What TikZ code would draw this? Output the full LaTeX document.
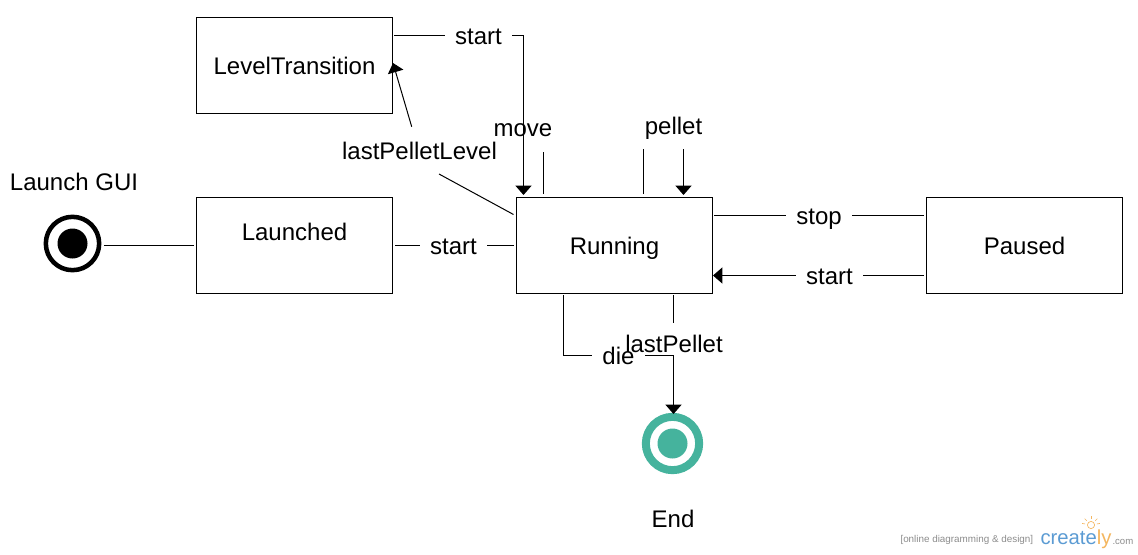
\documentclass[tikz,border=0pt]{standalone}
\usepackage{fontspec}
\setmainfont{Liberation Sans}
\usepackage{tikz}
\usetikzlibrary{positioning,arrows.meta}
\definecolor{endgreen}{HTML}{45B39D}
\definecolor{markblue}{HTML}{5B9BD3}
\definecolor{markorange}{HTML}{F4B65F}
\definecolor{markgray}{HTML}{8C8C8C}

\begin{document}
\begin{tikzpicture}[x=0.75pt, y=-0.75pt, line width=0.75pt,
		sbox/.style= {rectangle, draw=black, minimum width=147pt, minimum height=72pt, outer sep=2pt, inner sep=0pt, text height=16pt, text depth=3.2pt, font=\fontsize{18}{20}\selectfont},
		lab/.style= {text height=16pt, text depth=3.2pt, inner xsep=7.5pt, inner ysep=6pt, font=\fontsize{18}{20}\selectfont},
		arr/.style= {-{Triangle[width=12pt, length=7pt]}}]
		\useasboundingbox (0,0) rectangle (1138,554);

		\node[sbox] (running) at (614.5,245.5) {Running};
		\node[sbox] (launched) [left=89pt of running] {\raisebox{10.5pt}{Launched}};
		\node[sbox] (transition) [above=59pt of launched] {LevelTransition};
		\node[sbox] (paused) [right=156.5pt of running] {Paused};

		\node[circle, draw=black, line width=3.4pt, minimum size=40pt, outer sep=3.6pt, inner sep=0pt] (gui) at (72.5,243.5) {};
		\node[circle, fill=black, minimum size=22.5pt, inner sep=0pt] (guidot) at (gui) {};
		\node[circle, draw=endgreen, line width=6pt, minimum size=40pt, outer sep=0pt, inner sep=0pt] (end) at (672.5,443.5) {};
		\node[circle, fill=endgreen, minimum size=22.5pt, inner sep=0pt] (enddot) at (end) {};

		\node[lab] (guilabel) at (74,182) {Launch GUI};
		\node[lab] (endlabel) at (673,519) {End};
		\node[lab] (start0) at (453.5,245.5) {start};
		\node[lab] (start1) at (478.5,35.5) {start};
		\node[lab] (start2) at (829.5,275.5) {start};
		\node[lab] (stop) at (819,215.5) {stop};
		\node[lab] (move) at (523,128) {move};
		\node[lab] (pellet) at (673.5,126) {pellet};
		\node[lab] (level) at (419.5,151) {lastPelletLevel};
		\node[lab] (die) at (618.5,355.5) {die};
		\node[lab] (last) at (674,344) {lastPellet};

		\coordinate (c0) at (394,35.5);
		\coordinate (c1) at (523.5,195);
		\coordinate (c2) at (543.5,194);
		\coordinate (c3) at (543.5,152);
		\coordinate (c4) at (643.5,194);
		\coordinate (c5) at (643.5,149);
		\coordinate (c6) at (683.5,149);
		\coordinate (c7) at (683.5,195);
		\coordinate (c8) at (513.5,214.5);
		\coordinate (c9) at (439,174);
		\coordinate (c10) at (411.7,126.7);
		\coordinate (c11) at (393,63);
		\coordinate (c12) at (923.5,275.5);
		\coordinate (c13) at (713,275.5);
		\coordinate (c14) at (563.5,295);
		\coordinate (c15) at (673.5,414);
		\coordinate (c16) at (673.5,295);
		\coordinate (c17) at (673.5,323);
		\coordinate (c18) at (714,215.5);
		\coordinate (c19) at (923.5,215.5);

		\draw[-] (gui.east |- launched.west) -- (launched.west);
		\draw[-] (launched.east) -- (start0.west);
		\draw[-] (start0.east) -- (running.west);
		\draw[-] (c0) -- (start1.west);
		\draw[arr] (start1.east) -| (c1);
		\draw[-] (c2) -- (c3);
		\draw[-] (c4) -- (c5);
		\draw[arr] (c6) -- (c7);
		\draw[-] (c8) -- (c9);
		\draw[arr] (c10) -- (c11);
		\draw[-] (c18) -- (stop.west);
		\draw[-] (stop.east) -- (c19);
		\draw[-] (c12) -- (start2.east);
		\draw[arr] (start2.west) -- (c13);
		\draw[-] (c14) |- (die.west);
		\draw[arr] (die.east) -| (c15);
		\draw[-] (c16) -- (c17);

		\node[anchor=base west, inner sep=0pt, text=markgray, font=\fontsize{7.4}{9}\selectfont] (mark0) at (900,542) {[online diagramming \& design]};
		\node[anchor=base west, inner sep=0pt, text=markblue, font=\fontsize{15.2}{18}\selectfont] (mark1) at (1040,544) {create\textcolor{markorange}{l}\textcolor{markorange}{y}};
		\node[anchor=base west, inner sep=0pt, text=markgray, font=\fontsize{7.2}{9}\selectfont] (mark2) at (1112,544) {.com};
		\draw[markorange, line width=0.5pt] (1091,525) circle (3.6);
		\foreach \a in {-170,-135,-90,-45,-10}
			\draw[markorange, line width=0.5pt] (1091,525) ++(\a:6) -- ++(\a:3);
\end{tikzpicture}
\end{document}
